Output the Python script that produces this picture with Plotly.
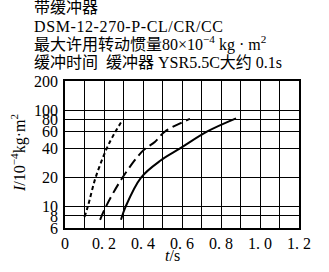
import plotly.graph_objects as go
import math

# data
short_t = [0.10, 0.117, 0.157, 0.214, 0.255, 0.297]
short_I = [7.8, 10, 20, 40, 58, 80]
long_t = [0.18, 0.21, 0.295, 0.40, 0.462, 0.513, 0.641]
long_I = [7.3, 10, 20, 38, 47, 60, 81]
solid_t = [0.287, 0.311, 0.39, 0.49, 0.59, 0.73, 0.877]
solid_I = [7.3, 10, 20, 30, 40, 60, 82]

x_grid = [round(i * 0.1, 1) for i in range(13)]
x_labels = ["0", "", "0. 2", "", "0. 4", "", "0. 6", "", "0. 8", "", "1. 0", "", "1. 2"]
y_ticks = [6, 8, 10, 20, 40, 60, 80, 100, 200]
y_labels = ["6", "8", "10", "20", "40", "60", "80", "100", "200"]

title_lines = [
    "带缓冲器",
    "<span style='letter-spacing:0.6px'>DSM-12-270-P-CL/CR/CC</span>",
    "最大许用转动惯量80×10<sup>−4</sup> kg · m<sup>2</sup>",
    "缓冲时间  缓冲器 YSR5.5C大约 0.1s",
]

FONT = "Liberation Serif, Noto Sans CJK SC, serif"

fig = go.Figure()
fig.add_trace(go.Scatter(x=short_t, y=short_I, mode="lines",
                         line=dict(color="black", width=2, dash="4px,3px", shape="spline")))
fig.add_trace(go.Scatter(x=long_t, y=long_I, mode="lines",
                         line=dict(color="black", width=2, dash="10px,5px", shape="spline")))
fig.add_trace(go.Scatter(x=solid_t, y=solid_I, mode="lines",
                         line=dict(color="black", width=2, shape="spline", smoothing=1.0)))

L, R, T, B = 65, 30, 81, 44
W, H = 329, 272
pw, ph = W - L - R, H - T - B

fig.update_layout(
    width=W, height=H, margin=dict(l=L, r=R, t=T, b=B),
    paper_bgcolor="white", plot_bgcolor="white", showlegend=False,
    font=dict(family=FONT, color="black", size=16),
    xaxis=dict(range=[0, 1.2], tickvals=x_grid, ticktext=x_labels,
               showgrid=True, gridcolor="black", gridwidth=1.3,
               showline=True, linecolor="black", linewidth=1.5, mirror=True,
               zeroline=False, ticks="", ticklabelstandoff=0,
               tickfont=dict(size=16, family=FONT)),
    yaxis=dict(type="log", range=[math.log10(6), math.log10(200)],
               tickvals=y_ticks, ticktext=y_labels,
               showgrid=True, gridcolor="black", gridwidth=1.3,
               showline=True, linecolor="black", linewidth=1.5, mirror=True,
               zeroline=False, ticks="", ticklabelstandoff=2,
               tickfont=dict(size=16, family=FONT)),
)

for i, txt in enumerate(title_lines):
    py = 8 + i * 18
    fig.add_annotation(text=txt, xref="paper", yref="paper",
                       x=(32 - L) / pw, y=(H - B - py) / ph,
                       xanchor="left", yanchor="middle", showarrow=False,
                       font=dict(size=16, family=FONT, color="black"))

fig.add_annotation(text="<i>I</i>/10<sup>−4</sup>kg·m<sup>2</sup>", xref="paper", yref="paper",
                   x=(18 - L) / pw, y=(H - B - 153) / ph, textangle=-90,
                   xanchor="center", yanchor="middle", showarrow=False,
                   font=dict(size=16, family=FONT, color="black"))
fig.add_annotation(text="<i>t</i>/s", xref="paper", yref="paper",
                   x=(172 - L) / pw, y=(H - B - 255) / ph,
                   xanchor="center", yanchor="middle", showarrow=False,
                   font=dict(size=16, family=FONT, color="black"))

fig.write_html("out.html")
